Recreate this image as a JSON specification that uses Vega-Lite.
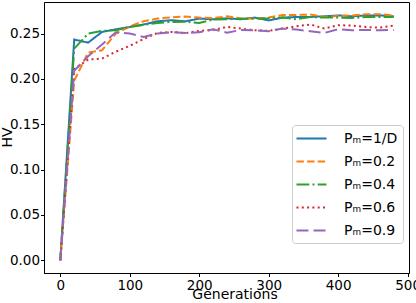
{
  "$schema": "https://vega.github.io/schema/vega-lite/v6.json",
  "width": 365,
  "height": 271,
  "autosize": {"type": "none"},
  "padding": {"left": 44, "top": 2, "right": 7, "bottom": 30},
  "background": "white",
  "config": {
    "view": {"stroke": "black", "strokeWidth": 1},
    "font": "DejaVu Sans",
    "axis": {
      "grid": false,
      "domainColor": "black",
      "tickColor": "black",
      "tickSize": 3.5,
      "labelColor": "black",
      "labelFont": "DejaVu Sans",
      "labelFontSize": 13.5,
      "titleFont": "DejaVu Sans",
      "titleFontSize": 14,
      "titleFontWeight": "normal",
      "titleColor": "black"
    },
    "legend": {
      "labelFont": "DejaVu Sans",
      "labelAlign": "left"
    }
  },
  "data": {
    "values": [
      {"gen": 0, "hv": 0, "s": "Pₘ=1/D"},
      {"gen": 20, "hv": 0.2434, "s": "Pₘ=1/D"},
      {"gen": 40, "hv": 0.2400, "s": "Pₘ=1/D"},
      {"gen": 60, "hv": 0.2518, "s": "Pₘ=1/D"},
      {"gen": 80, "hv": 0.2547, "s": "Pₘ=1/D"},
      {"gen": 100, "hv": 0.2573, "s": "Pₘ=1/D"},
      {"gen": 120, "hv": 0.2600, "s": "Pₘ=1/D"},
      {"gen": 140, "hv": 0.2636, "s": "Pₘ=1/D"},
      {"gen": 160, "hv": 0.2647, "s": "Pₘ=1/D"},
      {"gen": 180, "hv": 0.2635, "s": "Pₘ=1/D"},
      {"gen": 200, "hv": 0.2665, "s": "Pₘ=1/D"},
      {"gen": 220, "hv": 0.2658, "s": "Pₘ=1/D"},
      {"gen": 240, "hv": 0.2668, "s": "Pₘ=1/D"},
      {"gen": 260, "hv": 0.2658, "s": "Pₘ=1/D"},
      {"gen": 280, "hv": 0.2676, "s": "Pₘ=1/D"},
      {"gen": 300, "hv": 0.2645, "s": "Pₘ=1/D"},
      {"gen": 320, "hv": 0.2676, "s": "Pₘ=1/D"},
      {"gen": 340, "hv": 0.2683, "s": "Pₘ=1/D"},
      {"gen": 360, "hv": 0.2683, "s": "Pₘ=1/D"},
      {"gen": 380, "hv": 0.2690, "s": "Pₘ=1/D"},
      {"gen": 400, "hv": 0.2700, "s": "Pₘ=1/D"},
      {"gen": 420, "hv": 0.2690, "s": "Pₘ=1/D"},
      {"gen": 440, "hv": 0.2700, "s": "Pₘ=1/D"},
      {"gen": 460, "hv": 0.2700, "s": "Pₘ=1/D"},
      {"gen": 480, "hv": 0.2690, "s": "Pₘ=1/D"},
      {"gen": 0, "hv": 0, "s": "Pₘ=0.2"},
      {"gen": 20, "hv": 0.198, "s": "Pₘ=0.2"},
      {"gen": 40, "hv": 0.229, "s": "Pₘ=0.2"},
      {"gen": 60, "hv": 0.2316, "s": "Pₘ=0.2"},
      {"gen": 80, "hv": 0.250, "s": "Pₘ=0.2"},
      {"gen": 100, "hv": 0.258, "s": "Pₘ=0.2"},
      {"gen": 120, "hv": 0.2636, "s": "Pₘ=0.2"},
      {"gen": 140, "hv": 0.2665, "s": "Pₘ=0.2"},
      {"gen": 160, "hv": 0.2680, "s": "Pₘ=0.2"},
      {"gen": 180, "hv": 0.2687, "s": "Pₘ=0.2"},
      {"gen": 200, "hv": 0.2676, "s": "Pₘ=0.2"},
      {"gen": 220, "hv": 0.2670, "s": "Pₘ=0.2"},
      {"gen": 240, "hv": 0.2690, "s": "Pₘ=0.2"},
      {"gen": 260, "hv": 0.2665, "s": "Pₘ=0.2"},
      {"gen": 280, "hv": 0.2665, "s": "Pₘ=0.2"},
      {"gen": 300, "hv": 0.2676, "s": "Pₘ=0.2"},
      {"gen": 320, "hv": 0.2705, "s": "Pₘ=0.2"},
      {"gen": 340, "hv": 0.2705, "s": "Pₘ=0.2"},
      {"gen": 360, "hv": 0.2710, "s": "Pₘ=0.2"},
      {"gen": 380, "hv": 0.2683, "s": "Pₘ=0.2"},
      {"gen": 400, "hv": 0.2695, "s": "Pₘ=0.2"},
      {"gen": 420, "hv": 0.2700, "s": "Pₘ=0.2"},
      {"gen": 440, "hv": 0.2713, "s": "Pₘ=0.2"},
      {"gen": 460, "hv": 0.2713, "s": "Pₘ=0.2"},
      {"gen": 480, "hv": 0.2700, "s": "Pₘ=0.2"},
      {"gen": 0, "hv": 0, "s": "Pₘ=0.4"},
      {"gen": 20, "hv": 0.2334, "s": "Pₘ=0.4"},
      {"gen": 40, "hv": 0.2500, "s": "Pₘ=0.4"},
      {"gen": 60, "hv": 0.2529, "s": "Pₘ=0.4"},
      {"gen": 80, "hv": 0.2536, "s": "Pₘ=0.4"},
      {"gen": 100, "hv": 0.2573, "s": "Pₘ=0.4"},
      {"gen": 120, "hv": 0.2595, "s": "Pₘ=0.4"},
      {"gen": 140, "hv": 0.2617, "s": "Pₘ=0.4"},
      {"gen": 160, "hv": 0.2628, "s": "Pₘ=0.4"},
      {"gen": 180, "hv": 0.2630, "s": "Pₘ=0.4"},
      {"gen": 200, "hv": 0.2617, "s": "Pₘ=0.4"},
      {"gen": 220, "hv": 0.2654, "s": "Pₘ=0.4"},
      {"gen": 240, "hv": 0.2658, "s": "Pₘ=0.4"},
      {"gen": 260, "hv": 0.2662, "s": "Pₘ=0.4"},
      {"gen": 280, "hv": 0.2665, "s": "Pₘ=0.4"},
      {"gen": 300, "hv": 0.2668, "s": "Pₘ=0.4"},
      {"gen": 320, "hv": 0.2676, "s": "Pₘ=0.4"},
      {"gen": 340, "hv": 0.2658, "s": "Pₘ=0.4"},
      {"gen": 360, "hv": 0.2683, "s": "Pₘ=0.4"},
      {"gen": 380, "hv": 0.2676, "s": "Pₘ=0.4"},
      {"gen": 400, "hv": 0.2676, "s": "Pₘ=0.4"},
      {"gen": 420, "hv": 0.2672, "s": "Pₘ=0.4"},
      {"gen": 440, "hv": 0.2683, "s": "Pₘ=0.4"},
      {"gen": 460, "hv": 0.2683, "s": "Pₘ=0.4"},
      {"gen": 480, "hv": 0.2683, "s": "Pₘ=0.4"},
      {"gen": 0, "hv": 0, "s": "Pₘ=0.6"},
      {"gen": 20, "hv": 0.211, "s": "Pₘ=0.6"},
      {"gen": 40, "hv": 0.2213, "s": "Pₘ=0.6"},
      {"gen": 60, "hv": 0.2224, "s": "Pₘ=0.6"},
      {"gen": 80, "hv": 0.2300, "s": "Pₘ=0.6"},
      {"gen": 100, "hv": 0.2365, "s": "Pₘ=0.6"},
      {"gen": 120, "hv": 0.2440, "s": "Pₘ=0.6"},
      {"gen": 140, "hv": 0.2507, "s": "Pₘ=0.6"},
      {"gen": 160, "hv": 0.2518, "s": "Pₘ=0.6"},
      {"gen": 180, "hv": 0.2505, "s": "Pₘ=0.6"},
      {"gen": 200, "hv": 0.2529, "s": "Pₘ=0.6"},
      {"gen": 220, "hv": 0.2540, "s": "Pₘ=0.6"},
      {"gen": 240, "hv": 0.2573, "s": "Pₘ=0.6"},
      {"gen": 260, "hv": 0.2555, "s": "Pₘ=0.6"},
      {"gen": 280, "hv": 0.2536, "s": "Pₘ=0.6"},
      {"gen": 300, "hv": 0.2530, "s": "Pₘ=0.6"},
      {"gen": 320, "hv": 0.2555, "s": "Pₘ=0.6"},
      {"gen": 340, "hv": 0.2580, "s": "Pₘ=0.6"},
      {"gen": 360, "hv": 0.2600, "s": "Pₘ=0.6"},
      {"gen": 380, "hv": 0.2555, "s": "Pₘ=0.6"},
      {"gen": 400, "hv": 0.2592, "s": "Pₘ=0.6"},
      {"gen": 420, "hv": 0.2588, "s": "Pₘ=0.6"},
      {"gen": 440, "hv": 0.2573, "s": "Pₘ=0.6"},
      {"gen": 460, "hv": 0.2565, "s": "Pₘ=0.6"},
      {"gen": 480, "hv": 0.2588, "s": "Pₘ=0.6"},
      {"gen": 0, "hv": 0, "s": "Pₘ=0.9"},
      {"gen": 20, "hv": 0.209, "s": "Pₘ=0.9"},
      {"gen": 40, "hv": 0.225, "s": "Pₘ=0.9"},
      {"gen": 60, "hv": 0.238, "s": "Pₘ=0.9"},
      {"gen": 80, "hv": 0.2515, "s": "Pₘ=0.9"},
      {"gen": 100, "hv": 0.2500, "s": "Pₘ=0.9"},
      {"gen": 120, "hv": 0.2463, "s": "Pₘ=0.9"},
      {"gen": 140, "hv": 0.2500, "s": "Pₘ=0.9"},
      {"gen": 160, "hv": 0.2515, "s": "Pₘ=0.9"},
      {"gen": 180, "hv": 0.2507, "s": "Pₘ=0.9"},
      {"gen": 200, "hv": 0.2515, "s": "Pₘ=0.9"},
      {"gen": 220, "hv": 0.2547, "s": "Pₘ=0.9"},
      {"gen": 240, "hv": 0.2510, "s": "Pₘ=0.9"},
      {"gen": 260, "hv": 0.2540, "s": "Pₘ=0.9"},
      {"gen": 280, "hv": 0.2536, "s": "Pₘ=0.9"},
      {"gen": 300, "hv": 0.2525, "s": "Pₘ=0.9"},
      {"gen": 320, "hv": 0.2555, "s": "Pₘ=0.9"},
      {"gen": 340, "hv": 0.2544, "s": "Pₘ=0.9"},
      {"gen": 360, "hv": 0.2525, "s": "Pₘ=0.9"},
      {"gen": 380, "hv": 0.2507, "s": "Pₘ=0.9"},
      {"gen": 400, "hv": 0.2547, "s": "Pₘ=0.9"},
      {"gen": 420, "hv": 0.2536, "s": "Pₘ=0.9"},
      {"gen": 440, "hv": 0.2540, "s": "Pₘ=0.9"},
      {"gen": 460, "hv": 0.2536, "s": "Pₘ=0.9"},
      {"gen": 480, "hv": 0.2540, "s": "Pₘ=0.9"}
    ]
  },
  "mark": {"type": "line", "strokeWidth": 2, "clip": true},
  "encoding": {
    "x": {
      "field": "gen",
      "type": "quantitative",
      "scale": {"domain": [-23.5, 502], "nice": false, "zero": false},
      "axis": {
        "title": "Generations",
        "values": [0, 100, 200, 300, 400, 500],
        "format": "d",
        "labelPadding": 2,
        "labelFlush": false,
        "titleX": 190.5,
        "titleY": 25.3,
        "titleBaseline": "alphabetic",
        "titleAnchor": null
      }
    },
    "y": {
      "field": "hv",
      "type": "quantitative",
      "scale": {"domain": [-0.014, 0.2848], "nice": false, "zero": false},
      "axis": {
        "title": "HV",
        "values": [0, 0.05, 0.1, 0.15, 0.2, 0.25],
        "format": ".2f",
        "labelPadding": 1,
        "labelFlush": false,
        "titleX": -32.3,
        "titleY": 135,
        "titleAngle": -90,
        "titleAlign": "center",
        "titleBaseline": "alphabetic"
      }
    },
    "color": {
      "field": "s",
      "type": "nominal",
      "scale": {
        "domain": ["Pₘ=1/D", "Pₘ=0.2", "Pₘ=0.4", "Pₘ=0.6", "Pₘ=0.9"],
        "range": ["#1f77b4", "#ff7f0e", "#2ca02c", "#d62728", "#9467bd"]
      },
      "legend": {
        "title": null,
        "orient": "none",
        "legendX": 248,
        "legendY": 123,
        "strokeColor": "#cccccc",
        "cornerRadius": 3,
        "fillColor": "rgba(255,255,255,0.8)",
        "padding": 5,
        "symbolType": "M-2,0H2",
        "symbolSize": 225,
        "symbolStrokeWidth": 2,
        "symbolOffset": 6,
        "labelOffset": 24,
        "labelAlign": "left",
        "rowPadding": 7,
        "labelFontSize": 14,
        "labelColor": "black",
        "labelLimit": 200
      }
    },
    "strokeDash": {
      "field": "s",
      "type": "nominal",
      "scale": {
        "domain": ["Pₘ=1/D", "Pₘ=0.2", "Pₘ=0.4", "Pₘ=0.6", "Pₘ=0.9"],
        "range": [[1, 0], [7.4, 3.2], [12.8, 3.2, 2, 3.2], [2, 3.3], [12, 5]]
      },
      "legend": {
        "title": null,
        "orient": "none",
        "legendX": 248,
        "legendY": 123,
        "strokeColor": "#cccccc",
        "cornerRadius": 3,
        "fillColor": "rgba(255,255,255,0.8)",
        "padding": 5,
        "symbolType": "M-2,0H2",
        "symbolSize": 225,
        "symbolStrokeWidth": 2,
        "symbolOffset": 6,
        "labelOffset": 24,
        "labelAlign": "left",
        "rowPadding": 7,
        "labelFontSize": 14,
        "labelColor": "black",
        "labelLimit": 200
      }
    }
  }
}
